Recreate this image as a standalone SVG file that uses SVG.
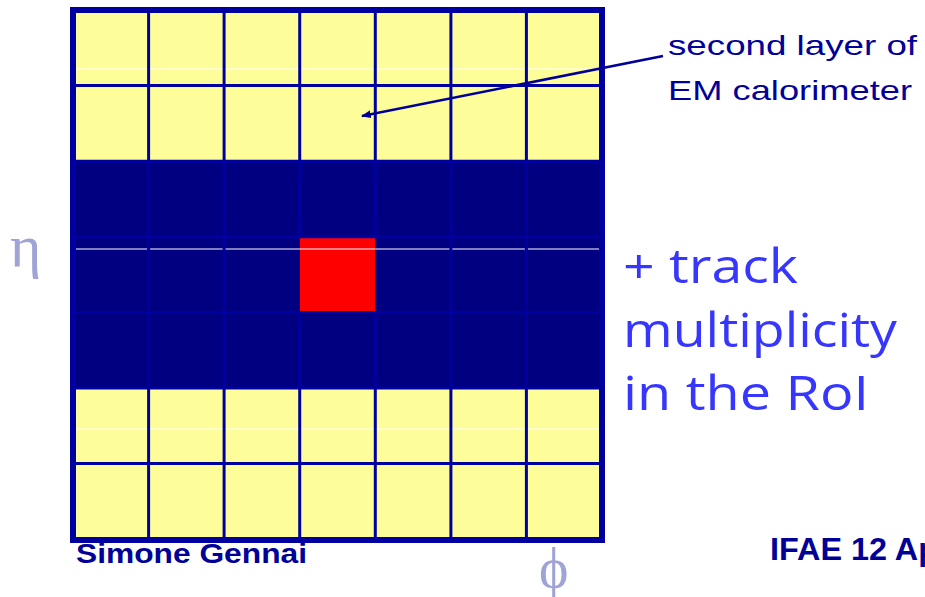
<svg xmlns="http://www.w3.org/2000/svg" width="925" height="597" viewBox="0 0 925 597">
<style>
.yel{fill:#FDFD9A}
.band{fill:#000080}
.grid{stroke:#0000A0;stroke-width:3;fill:none}
.streak{stroke:#FFFFFF;stroke-width:1}
.lbl{font-family:"Liberation Sans",Arial,sans-serif;fill:#000099}
.hand{font-family:"Comic Sans MS","Open Sans","DejaVu Sans",sans-serif;fill:#3636FF;font-size:48px}
.greek{font-family:"Liberation Serif","DejaVu Serif",serif;fill:#A0A3D6}
</style>
<defs>
<marker id="ah" markerWidth="10" markerHeight="8" refX="9" refY="4" orient="auto" markerUnits="userSpaceOnUse">
<path d="M0,0 L10,4 L0,8 Z" fill="#000099"/>
</marker>
</defs>
<g id="calorimeter">
<rect class="yel" x="73" y="10" width="529" height="530"/>
<rect class="band" x="73" y="161" width="529" height="227"/>
<rect id="roi" x="300" y="238" width="75" height="74" fill="#FF0000"/>
<line class="streak" x1="76" y1="69" x2="599" y2="69"/>
<line class="streak" x1="76" y1="249" x2="599" y2="249"/>
<line class="streak" x1="76" y1="429" x2="599" y2="429"/>
<g class="grid">
<line x1="148.6" y1="10" x2="148.6" y2="540"/>
<line x1="224.1" y1="10" x2="224.1" y2="540"/>
<line x1="299.7" y1="10" x2="299.7" y2="238"/>
<line x1="299.7" y1="312" x2="299.7" y2="540"/>
<line x1="375.3" y1="10" x2="375.3" y2="238"/>
<line x1="375.3" y1="312" x2="375.3" y2="540"/>
<line x1="450.9" y1="10" x2="450.9" y2="540"/>
<line x1="526.4" y1="10" x2="526.4" y2="540"/>
<line x1="73" y1="85.6" x2="602" y2="85.6"/>
<line x1="73" y1="161.2" x2="602" y2="161.2"/>
<line x1="73" y1="236.8" x2="602" y2="236.8"/>
<line x1="73" y1="312.4" x2="602" y2="312.4"/>
<line x1="73" y1="388" x2="602" y2="388"/>
<line x1="73" y1="463.6" x2="602" y2="463.6"/>
</g>
<rect x="73" y="10" width="529" height="530" fill="none" stroke="#0000A0" stroke-width="6"/>
</g>
<g id="connectors">
<line x1="663" y1="56" x2="362" y2="116" stroke="#000099" stroke-width="2.5" marker-end="url(#ah)"/>
</g>
<g id="em-label">
<text class="lbl" x="668" y="55" font-size="28" textLength="249" lengthAdjust="spacingAndGlyphs">second layer of</text>
<text class="lbl" x="668" y="100" font-size="28" textLength="244" lengthAdjust="spacingAndGlyphs">EM calorimeter</text>
</g>
<g id="track-label">
<text class="hand" x="623" y="283" textLength="175" lengthAdjust="spacingAndGlyphs">+ track</text>
<text class="hand" x="623" y="347" textLength="274" lengthAdjust="spacingAndGlyphs">multiplicity</text>
<text class="hand" x="623" y="410" textLength="246" lengthAdjust="spacingAndGlyphs">in the RoI</text>
</g>
<g id="axes">
<text class="greek" x="10" y="266" font-size="60">η</text>
<text class="greek" x="539" y="587" font-size="56">ϕ</text>
</g>
<g id="footer">
<text class="lbl" x="76" y="563" font-size="28" font-weight="bold" textLength="231" lengthAdjust="spacingAndGlyphs">Simone Gennai</text>
<text class="lbl" x="770" y="560" font-size="31" font-weight="bold" textLength="168" lengthAdjust="spacingAndGlyphs">IFAE 12 Ap</text>
</g>
</svg>
